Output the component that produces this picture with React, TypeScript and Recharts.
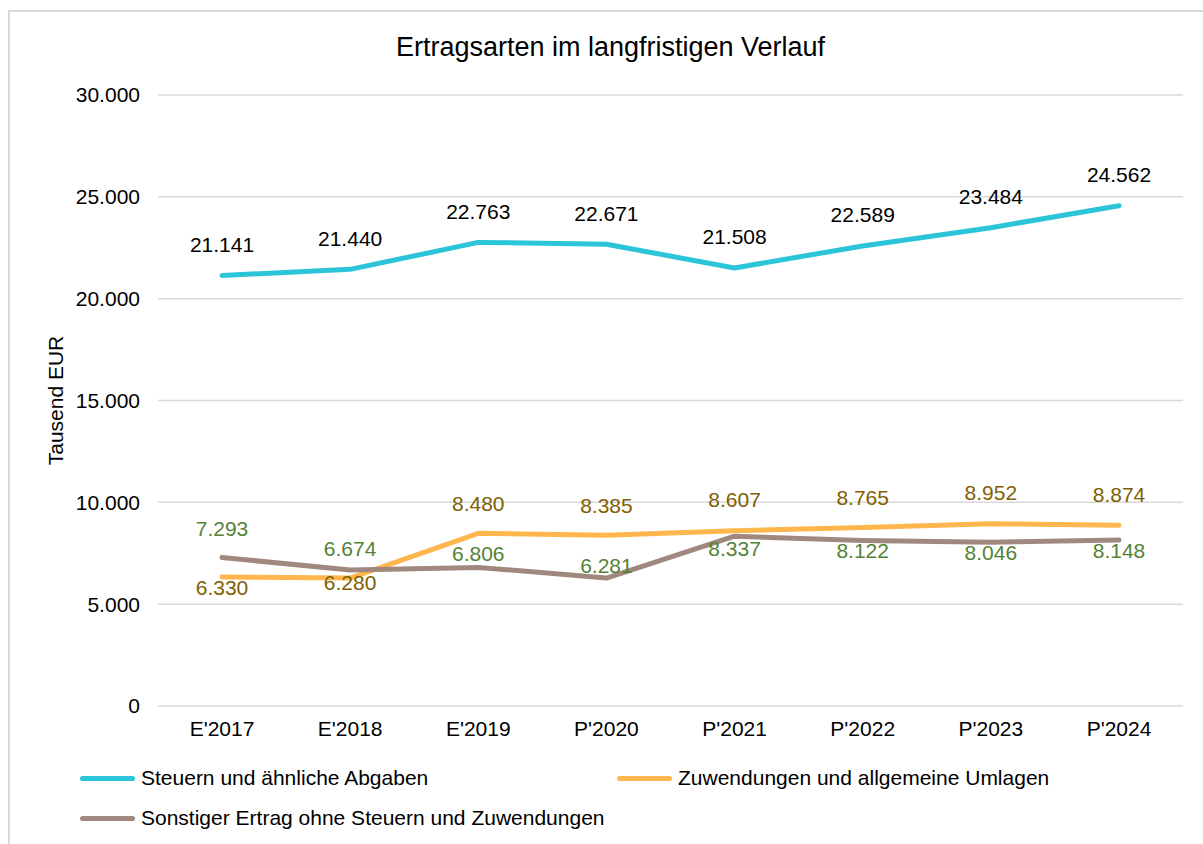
import React from 'react';
import { LineChart, Line, XAxis, YAxis, CartesianGrid, Legend, LabelList } from 'recharts';

const title = 'Ertragsarten im langfristigen Verlauf';
const yAxisTitle = 'Tausend EUR';
const categories = ["E'2017", "E'2018", "E'2019", "P'2020", "P'2021", "P'2022", "P'2023", "P'2024"];
const yTicks = [0, 5000, 10000, 15000, 20000, 25000, 30000];

const seriesNames = [
  'Steuern und ähnliche Abgaben',
  'Zuwendungen und allgemeine Umlagen',
  'Sonstiger Ertrag ohne Steuern und Zuwendungen',
];
const steuern = [21141, 21440, 22763, 22671, 21508, 22589, 23484, 24562];
const zuwendungen = [6330, 6280, 8480, 8385, 8607, 8765, 8952, 8874];
const sonstiger = [7293, 6674, 6806, 6281, 8337, 8122, 8046, 8148];

// label placement (style): vertical offset of label centre from the point
const steuernLabelDy = [-31, -31, -31, -31, -31, -31, -31, -31];
const zuwLabelDy = [10, 4, -30, -30, -31, -30, -31, -31];
const sonstLabelDy = [-29, -22, -14, -13, 12, 10, 10, 10];

const COLORS = ['#2CC4D8', '#FFB74D', '#A1887F'];
const LABEL_COLORS = ['#000000', '#7F6000', '#548235'];

const data = categories.map((c, i) => ({
  name: c,
  s: steuern[i],
  z: zuwendungen[i],
  o: sonstiger[i],
}));

const fmt = (v: number) => String(Math.round(v)).replace(/\B(?=(\d{3})+(?!\d))/g, '.');
const FONT = '"Liberation Sans", Arial, sans-serif';
const FS = 21;

const makeLabel = (dys: number[], color: string) => (props: any) => {
  const { x, y, value, index } = props;
  return (
    <text
      x={x}
      y={y + dys[index]}
      textAnchor="middle"
      dominantBaseline="central"
      fill={color}
      fontSize={FS}
      fontFamily={FONT}
    >
      {fmt(value)}
    </text>
  );
};

const renderLegend = () => {
  return (
    <div style={{ display: 'flex', flexWrap: 'wrap', width: 1100, fontFamily: FONT, fontSize: FS }}>
      {seriesNames.map((name, i) => (
        <div key={i} style={{ width: 537, height: 40, display: 'flex', alignItems: 'center' }}>
          <div style={{ width: 55, height: 5, borderRadius: 3, background: COLORS[i], marginRight: 6, flex: 'none' }} />
          <span style={{ color: '#000', whiteSpace: 'nowrap' }}>{name}</span>
        </div>
      ))}
    </div>
  );
};

const YLabel = (props: any) => {
  const vb = props.viewBox;
  const cx = vb.x - 23;
  const cy = vb.y + vb.height / 2;
  return (
    <text
      x={cx}
      y={cy}
      transform={`rotate(-90, ${cx}, ${cy})`}
      textAnchor="middle"
      dominantBaseline="central"
      fontSize={FS}
      fontFamily={FONT}
      fill="#000"
    >
      {yAxisTitle}
    </text>
  );
};

export default function App() {
  return (
    <div style={{ position: 'absolute', left: 0, top: 0, width: 1203, height: 844, background: '#fff', overflow: 'hidden' }}>
      <div
        style={{
          position: 'absolute',
          left: 8,
          top: 10,
          width: 1220,
          height: 860,
          border: '2px solid #d9d9d9',
          boxSizing: 'border-box',
        }}
      />
      <div
        style={{
          position: 'absolute',
          left: 0,
          width: 1221,
          top: 30,
          textAlign: 'center',
          fontFamily: FONT,
          fontSize: 27,
          color: '#000',
          lineHeight: '34px',
        }}
      >
        {title}
      </div>
      <div style={{ position: 'absolute', left: 0, top: 0 }}>
        <LineChart width={1203} height={844} data={data} margin={{ top: 95, right: 20, left: 78, bottom: 108 }}>
          <CartesianGrid vertical={false} stroke="#d9d9d9" strokeWidth={1.5} />
          <XAxis
            dataKey="name"
            axisLine={false}
            tickLine={false}
            tickSize={6}
            tickMargin={9}
            height={30}
            padding={{ left: 64, right: 64 }}
            tick={{ fill: '#000', fontSize: FS, fontFamily: FONT }}
            interval={0}
          />
          <YAxis
            width={80}
            domain={[0, 30000]}
            ticks={yTicks}
            axisLine={false}
            tickLine={false}
            tickSize={6}
            tickMargin={12}
            tickFormatter={fmt}
            tick={{ fill: '#000', fontSize: FS, fontFamily: FONT }}
            label={<YLabel />}
          />
          <Legend
            layout="horizontal"
            verticalAlign="middle"
            align="center"
            content={renderLegend}
            wrapperStyle={{ position: 'absolute', left: 80, top: 758, width: 1100 }}
          />
          <Line
            type="linear"
            dataKey="s"
            name={seriesNames[0]}
            stroke={COLORS[0]}
            strokeWidth={5}
            strokeLinecap="round"
            strokeLinejoin="round"
            dot={false}
            activeDot={false}
            isAnimationActive={false}
          >
            <LabelList dataKey="s" content={makeLabel(steuernLabelDy, LABEL_COLORS[0])} />
          </Line>
          <Line
            type="linear"
            dataKey="z"
            name={seriesNames[1]}
            stroke={COLORS[1]}
            strokeWidth={5}
            strokeLinecap="round"
            strokeLinejoin="round"
            dot={false}
            activeDot={false}
            isAnimationActive={false}
          >
            <LabelList dataKey="z" content={makeLabel(zuwLabelDy, LABEL_COLORS[1])} />
          </Line>
          <Line
            type="linear"
            dataKey="o"
            name={seriesNames[2]}
            stroke={COLORS[2]}
            strokeWidth={5}
            strokeLinecap="round"
            strokeLinejoin="round"
            dot={false}
            activeDot={false}
            isAnimationActive={false}
          >
            <LabelList dataKey="o" content={makeLabel(sonstLabelDy, LABEL_COLORS[2])} />
          </Line>
        </LineChart>
      </div>
    </div>
  );
}
